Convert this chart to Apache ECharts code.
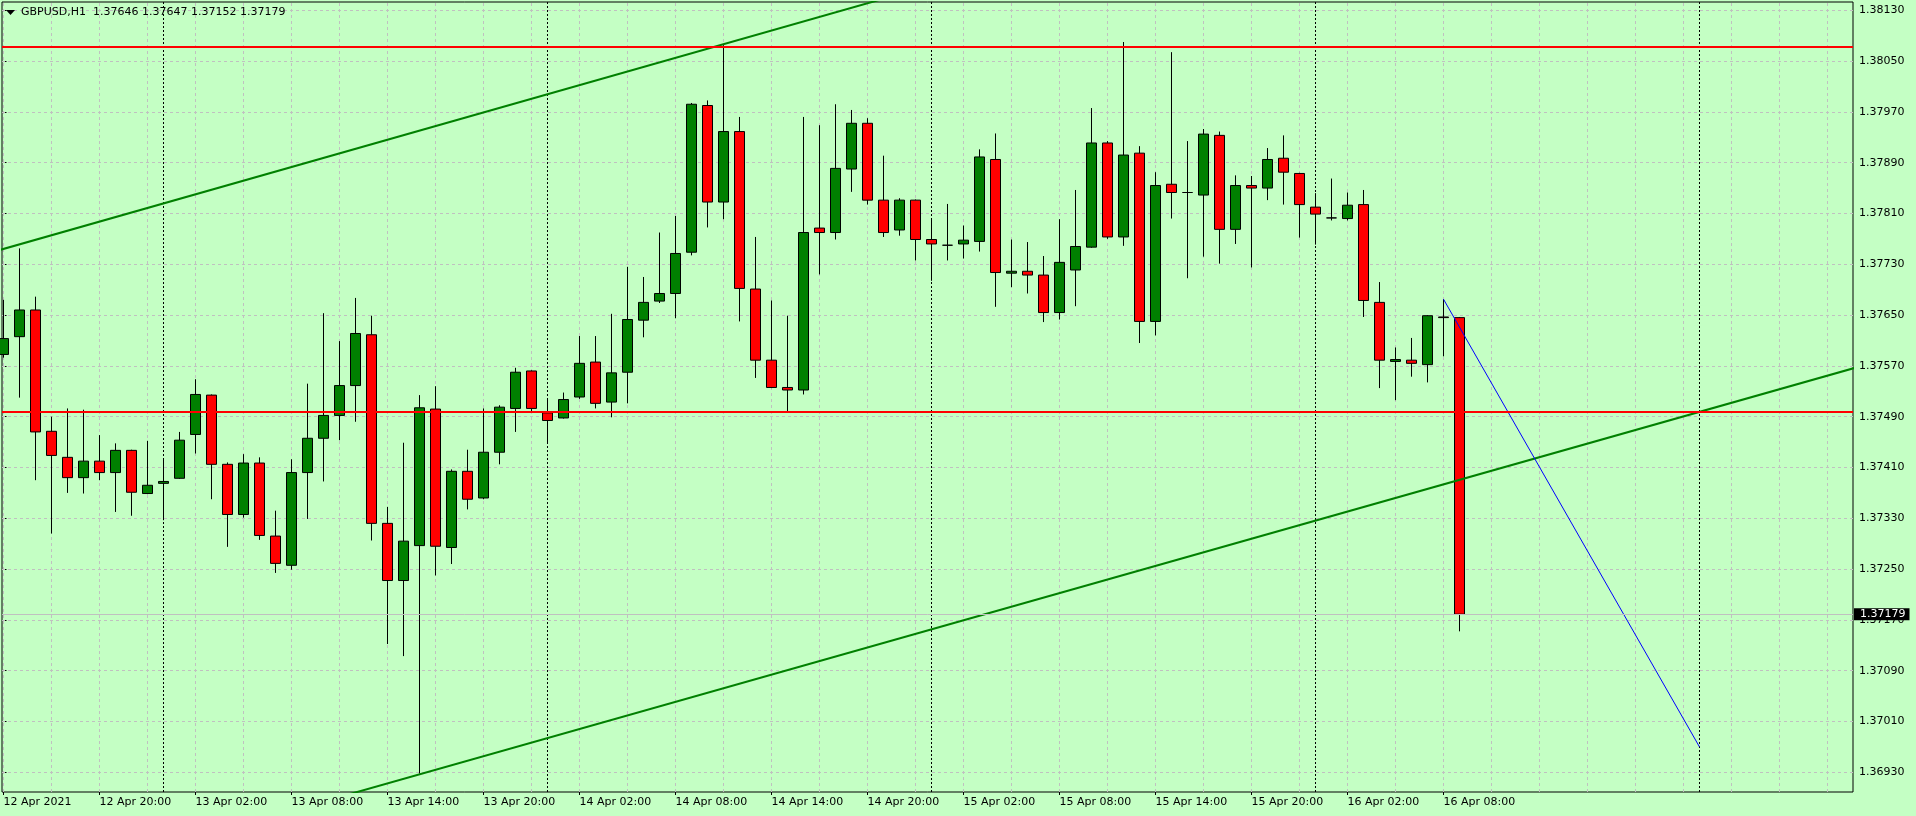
<!DOCTYPE html>
<html><head><meta charset="utf-8">
<script src="https://cdn.jsdelivr.net/npm/echarts@6/dist/echarts.min.js"></script>
<style>html,body{margin:0;padding:0;background:#c4ffc4;overflow:hidden}#c{width:1916px;height:816px}</style>
</head><body><div id="c"></div>
<script>
// ---- data (GBPUSD H1, bar 0 = 12 Apr 2021 14:00) ----
const symbolName = 'GBPUSD,H1';
const opens = [1.37588,1.37616,1.37658,1.37467,1.37426,1.37394,1.37420,1.37402,1.37437,1.37369,
1.37385,1.37393,1.37462,1.37524,1.37415,1.37336,1.37417,1.37302,1.37256,1.37402,
1.37456,1.37492,1.37539,1.37619,1.37322,1.37232,1.37287,1.37502,1.37284,1.37404,
1.37362,1.37434,1.37503,1.37562,1.37496,1.37488,1.37521,1.37576,1.37513,1.37560,
1.37642,1.37672,1.37684,1.37749,1.37980,1.37828,1.37939,1.37691,1.37579,1.37536,
1.37532,1.37787,1.37780,1.37880,1.37952,1.37831,1.37784,1.37831,1.37769,1.37760,
1.37762,1.37766,1.37895,1.37716,1.37719,1.37713,1.37654,1.37721,1.37757,1.37921,
1.37773,1.37905,1.37640,1.37856,1.37843,1.37839,1.37933,1.37785,1.37854,1.37850,
1.37897,1.37873,1.37820,1.37803,1.37802,1.37824,1.37670,1.37577,1.37579,1.37572,
1.37647,1.37646];
const highs = [1.37674,1.37755,1.37679,1.37490,1.37503,1.37501,1.37461,1.37448,1.37438,1.37452,
1.37423,1.37466,1.37549,1.37525,1.37418,1.37431,1.37426,1.37342,1.37423,1.37542,
1.37653,1.37609,1.37677,1.37649,1.37348,1.37449,1.37524,1.37538,1.37407,1.37438,
1.37503,1.37508,1.37567,1.37563,1.37519,1.37528,1.37617,1.37617,1.37652,1.37726,
1.37710,1.37780,1.37806,1.37984,1.37988,1.38075,1.37962,1.37773,1.37673,1.37649,
1.37962,1.37949,1.37982,1.37973,1.37960,1.37901,1.37834,1.37832,1.37802,1.37825,
1.37791,1.37911,1.37936,1.37769,1.37765,1.37743,1.37801,1.37847,1.37976,1.37924,
1.38080,1.37916,1.37875,1.38064,1.37924,1.37943,1.37939,1.37870,1.37869,1.37913,
1.37933,1.37874,1.37842,1.37865,1.37843,1.37847,1.37702,1.37599,1.37614,1.37650,
1.37675,1.37647];
const lows = [1.37583,1.37520,1.37390,1.37306,1.37370,1.37369,1.37390,1.37340,1.37334,1.37368,
1.37327,1.37392,1.37432,1.37360,1.37285,1.37331,1.37296,1.37244,1.37249,1.37329,
1.37388,1.37453,1.37482,1.37295,1.37132,1.37113,1.36928,1.37240,1.37258,1.37344,
1.37360,1.37415,1.37466,1.37496,1.37450,1.37487,1.37518,1.37503,1.37489,1.37511,
1.37615,1.37669,1.37645,1.37744,1.37788,1.37801,1.37640,1.37551,1.37535,1.37498,
1.37525,1.37714,1.37769,1.37844,1.37824,1.37773,1.37775,1.37736,1.37704,1.37736,
1.37739,1.37750,1.37663,1.37694,1.37684,1.37639,1.37643,1.37664,1.37756,1.37770,
1.37759,1.37606,1.37618,1.37802,1.37708,1.37742,1.37731,1.37762,1.37725,1.37831,
1.37824,1.37772,1.37761,1.37799,1.37799,1.37647,1.37535,1.37516,1.37553,1.37544,
1.37585,1.37152];
const closes = [1.37613,1.37658,1.37466,1.37429,1.37394,1.37420,1.37402,1.37437,1.37371,1.37382,
1.37388,1.37453,1.37525,1.37415,1.37336,1.37417,1.37303,1.37259,1.37402,1.37456,
1.37492,1.37539,1.37621,1.37322,1.37232,1.37294,1.37504,1.37286,1.37404,1.37360,
1.37434,1.37505,1.37560,1.37503,1.37484,1.37517,1.37574,1.37511,1.37559,1.37643,
1.37670,1.37684,1.37747,1.37982,1.37828,1.37939,1.37692,1.37579,1.37536,1.37532,
1.37780,1.37780,1.37881,1.37952,1.37831,1.37780,1.37831,1.37769,1.37762,1.37760,
1.37768,1.37899,1.37717,1.37719,1.37713,1.37654,1.37733,1.37758,1.37921,1.37773,
1.37902,1.37640,1.37854,1.37843,1.37843,1.37935,1.37785,1.37854,1.37850,1.37895,
1.37875,1.37824,1.37809,1.37803,1.37823,1.37673,1.37579,1.37580,1.37574,1.37649,
1.37646,1.37179];
const xTickLabels = ['12 Apr 2021','12 Apr 20:00','13 Apr 02:00','13 Apr 08:00','13 Apr 14:00','13 Apr 20:00',
'14 Apr 02:00','14 Apr 08:00','14 Apr 14:00','14 Apr 20:00','15 Apr 02:00','15 Apr 08:00',
'15 Apr 14:00','15 Apr 20:00','16 Apr 02:00','16 Apr 08:00'];
const xTickPos = [0,6,12,18,24,30,36,42,48,54,60,66,72,78,84,90];
const xGridPos = [0,3,6,9,12,15,18,21,24,27,30,33,36,39,42,45,48,51,54,57,60,63,66,69,72,75,78,81,84,87,90,93,96,99,102,105,108,111,114];
const yTicks = [1.36930,1.37010,1.37090,1.37170,1.37250,1.37330,1.37410,1.37490,1.37570,1.37650,1.37730,1.37810,1.37890,1.37970,1.38050,1.38130];
const daySeparators = [10,34,58,82,106];
const levels = [1.38073,1.37497];
const upperTrend = [[-1,1.37747],[60,1.38184]];
const lowerTrend = [[20,1.36884],[117,1.37576]];
const projection = [[90,1.37675],[106,1.36970]];
const bidPrice = 1.37179;

// ---- chart ----
const FONT = 'DejaVu Sans';
const BG = '#c4ffc4';
const candleData = opens.map((o,i)=>[i,o,closes[i],lows[i],highs[i]]);
const last = opens.length-1;
const header = symbolName + '  ' + [opens[last],highs[last],lows[last],closes[last]].map(v=>v.toFixed(5)).join(' ');

const chart = echarts.init(document.getElementById('c'), null, {renderer:'canvas'});
chart.setOption({
  animation:false,
  backgroundColor:BG,
  textStyle:{fontFamily:FONT},
  title:[{text:header,left:21,top:6,padding:0,textStyle:{fontFamily:FONT,fontSize:11,fontWeight:'normal',color:'#000',lineHeight:13}}],
  graphic:[{type:'polygon',shape:{points:[[6,10],[15,10],[10.5,15]]},style:{fill:'#000'},z:10}],
  grid:{left:2,top:2,right:63,bottom:24,show:true,borderColor:'#000',borderWidth:1,backgroundColor:BG,containLabel:false},
  xAxis:{type:'value',min:-0.09375,max:115.59375,
    axisLine:{show:false},
    axisTick:{show:true,length:3,lineStyle:{color:'#000'},customValues:xTickPos},
    axisLabel:{show:true,customValues:xTickPos,align:'left',margin:5,color:'#000',fontSize:11,fontFamily:FONT,
      formatter:v=>xTickLabels[Math.round(v/6)]||''},
    splitLine:{show:false}},
  yAxis:{type:'value',position:'right',min:1.36899,max:1.38143,
    axisLine:{show:false},
    axisTick:{show:true,length:3,lineStyle:{color:'#000'},customValues:yTicks},
    axisLabel:{show:true,customValues:yTicks,margin:6,color:'#000',fontSize:11,fontFamily:FONT,
      formatter:v=>v.toFixed(5)},
    splitLine:{show:false}},
  series:[
    {type:'line',data:[],silent:true,z:1,
      markLine:{silent:true,z:1,precision:6,symbol:['none','none'],animation:false,label:{show:false},
        lineStyle:{color:'#c0c0c0',type:[3,3],width:1},
        data:[].concat(
          yTicks.map(v=>({yAxis:v})),
          xGridPos.map(v=>({xAxis:v})),
          daySeparators.map(v=>({xAxis:v,lineStyle:{color:'#000',type:[2,2],width:1}}))
        )}},
    {type:'candlestick',data:candleData,encode:{x:0,y:[1,2,3,4]},barWidth:10,z:2,silent:true,
      itemStyle:{color:'#008000',color0:'#ff0000',borderColor:'#000',borderColor0:'#000',borderColorDoji:'#000',borderWidth:1}},
    {type:'line',data:upperTrend,symbol:'none',silent:true,z:3,clip:true,lineStyle:{color:'#008000',width:2}},
    {type:'line',data:lowerTrend,symbol:'none',silent:true,z:3,clip:true,lineStyle:{color:'#008000',width:2}},
    {type:'line',data:projection,symbol:'none',silent:true,z:3,clip:true,lineStyle:{color:'#0000ff',width:1}},
    {type:'line',data:[],silent:true,z:4,
      markLine:{silent:true,z:4,precision:6,symbol:['none','none'],animation:false,label:{show:false},
        data:[].concat(
          levels.map(v=>({yAxis:v,lineStyle:{color:'#ff0000',width:2,type:'solid'}})),
          [{yAxis:bidPrice,lineStyle:{color:'#c0c0c0',width:1,type:'solid'},
            label:{show:true,position:'end',distance:1,formatter:bidPrice.toFixed(5),
              backgroundColor:'#000',color:'#fff',fontFamily:FONT,fontSize:11,lineHeight:12,padding:[0,4,0,6]}}]
        )}}
  ]
});
</script></body></html>
